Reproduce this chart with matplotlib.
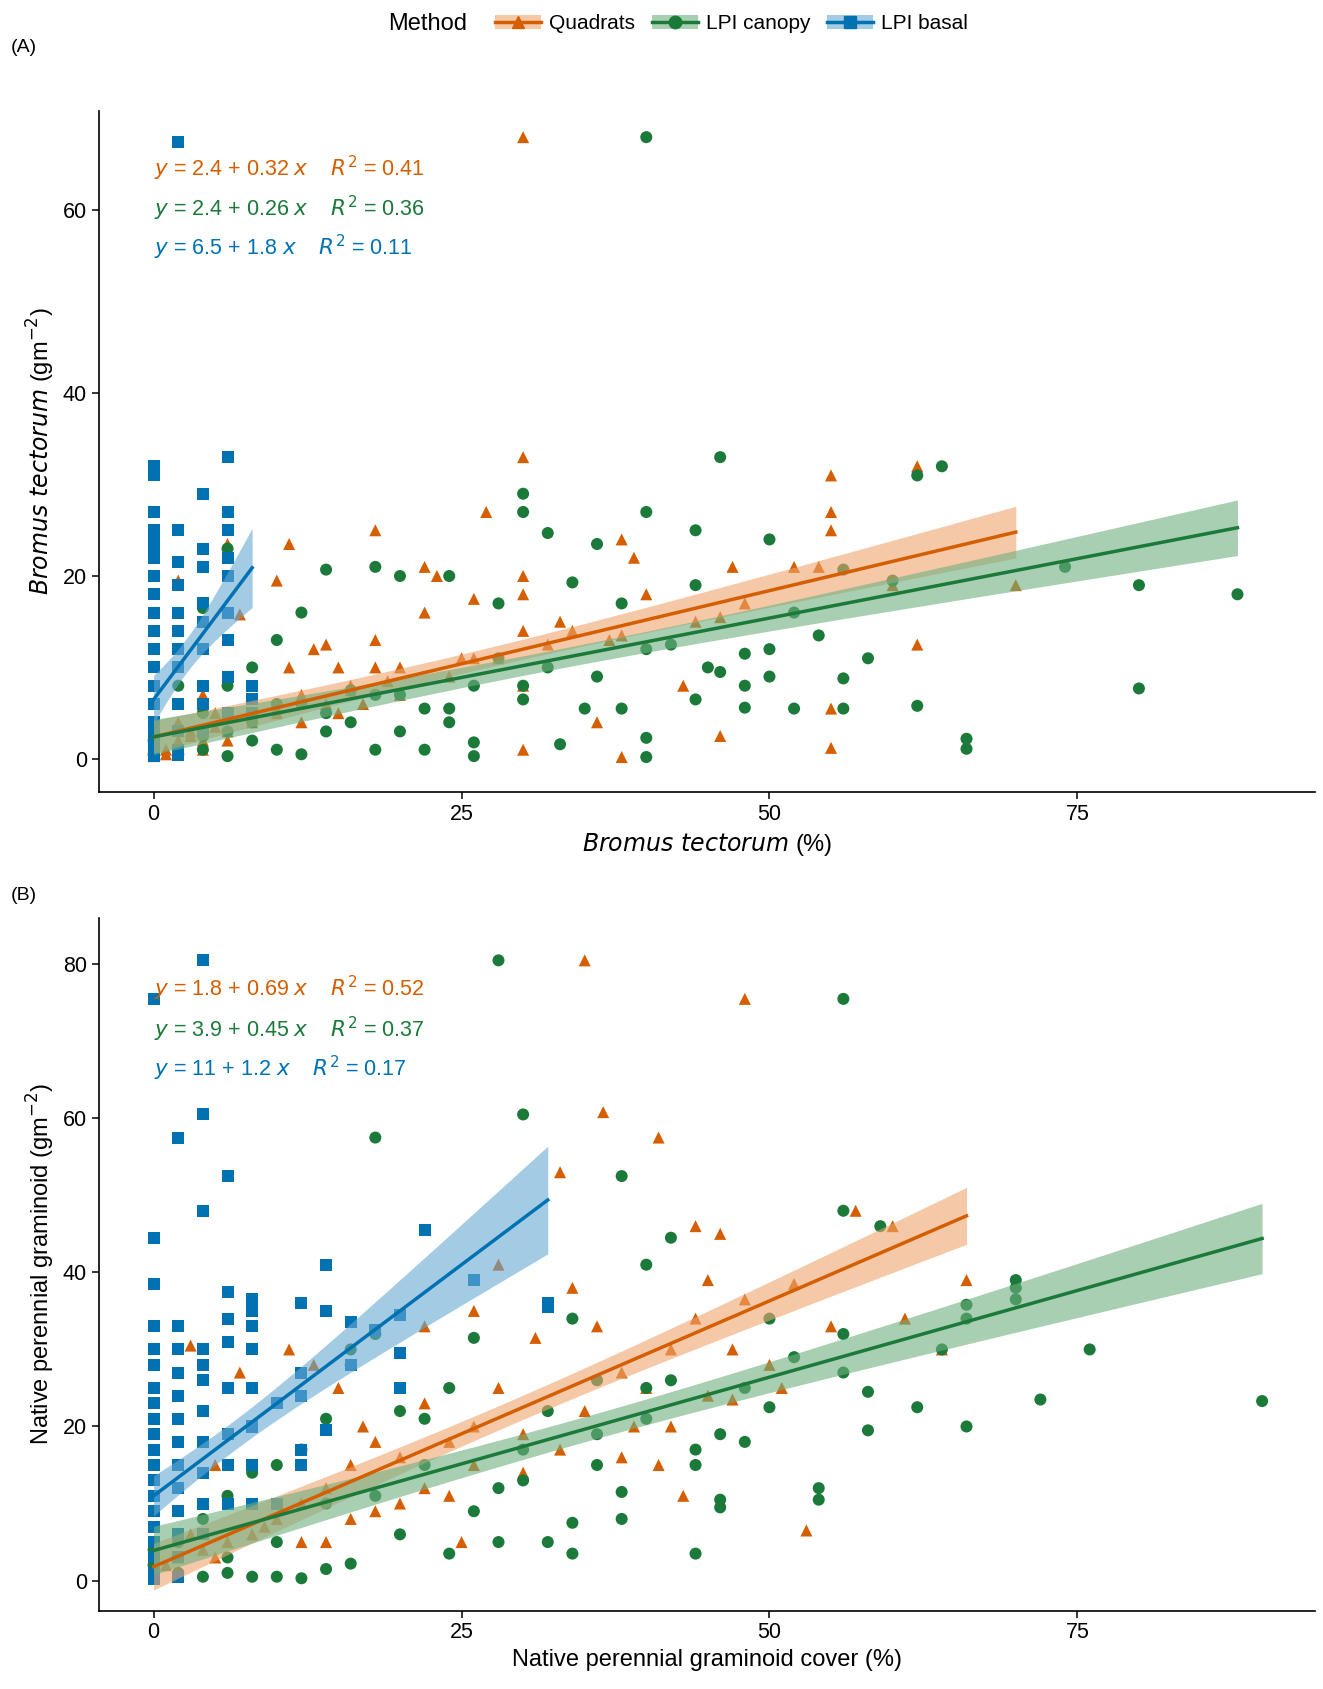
import numpy as np
import matplotlib.pyplot as plt
from matplotlib.lines import Line2D
from matplotlib.patches import Patch

# ---- panel A data: Bromus tectorum ----
a_quad_x = [30, 30, 62, 55, 55, 55, 47, 54, 70, 62, 55, 55, 46, 38, 30, 27, 18, 11, 22, 23, 30, 30, 38, 39, 43, 36,
            30, 25, 20, 15, 14, 16, 12, 10, 8, 6, 7, 5, 3, 2, 1, 0, 2, 10, 13, 17, 18, 22, 26, 33, 37, 40, 44, 46, 52,
            48, 60, 4, 6, 8, 10, 12, 14, 16, 18, 20, 24, 28, 32, 34, 0, 1, 2, 3, 4, 5, 6, 2, 4, 11, 15, 19, 26, 30, 38]
a_quad_y = [68, 33, 32, 31, 27, 25, 21, 21, 19, 12.5, 5.5, 1.2, 2.5, 0.2, 1, 27, 25, 23.5, 21, 20, 20, 18, 24, 22, 8,
            4, 14, 11, 10, 10, 12.5, 8, 7, 5, 4, 23.5, 15.8, 5, 3, 2, 1, 1, 19.5, 19.5, 12, 6, 13, 16, 17.5, 15, 13,
            18, 15, 15.5, 21, 17, 19, 2, 3, 4.5, 5.5, 4, 6, 7.5, 10, 7, 9, 11, 12.5, 14, 0.3, 0.5, 1.5, 2.5, 1, 3.5,
            2, 4, 7, 10, 5, 8.5, 11, 8, 13.5]
a_can_x = [40, 46, 64, 62, 30, 30, 40, 32, 44, 50, 74, 88, 80, 80, 66, 66, 62, 56, 52, 48, 40, 40, 26, 26, 33, 60,
           56, 54, 58, 56, 48, 50, 45, 42, 40, 38, 36, 34, 28, 24, 20, 18, 14, 12, 10, 8, 6, 4, 2, 2, 4, 6, 8, 10,
           12, 14, 16, 18, 20, 22, 24, 22, 30, 30, 35, 38, 44, 46, 48, 50, 52, 44, 36, 32, 28, 26, 24, 20, 16, 12, 6,
           0, 0, 2, 4, 6, 2, 4, 8, 10, 14, 18]
a_can_y = [68, 33, 32, 31, 29, 27, 27, 24.7, 25, 24, 21, 18, 19, 7.7, 2.2, 1.1, 5.8, 5.5, 5.5, 5.6, 0.2, 2.3, 0.3, 1.8,
           1.6, 19.5, 20.7, 13.5, 11, 8.8, 8, 12, 10, 12.5, 12, 17, 23.5, 19.3, 17, 20, 20, 21, 20.7, 16, 13, 10, 23,
           16.5, 12, 8, 5, 3, 2, 1, 0.5, 3, 4, 1, 3, 1, 4, 5.5, 6.5, 8, 5.5, 5.5, 6.5, 9.5, 11.5, 9, 16, 19, 9, 10,
           11, 8, 5.5, 7, 7.5, 6, 8, 0.5, 2, 0.5, 1, 0.3, 3, 2.5, 4, 6, 5, 7]
a_bas_x = [0] * 20 + [2] * 12 + [4] * 9 + [6] * 9 + [8] * 3
a_bas_y = [32, 31, 27, 25, 23, 20, 18, 16, 14, 12, 10, 8, 6, 4, 3, 2, 1, 0.3, 22, 24,
           67.5, 25, 21.5, 19, 16, 14, 12, 10, 6, 3, 1, 0.4,
           29, 23, 21, 17, 15, 12, 8, 6, 3,
           33, 27, 25, 22, 20, 16, 13, 9, 5,
           8, 6.5, 5]

# ---- panel B data: native perennial graminoid ----
b_quad_x = [35, 48, 36.5, 41, 33, 57, 60, 66, 44, 46, 45, 48, 52, 55, 61, 64, 47, 53, 43, 41, 39, 38, 36, 34, 31, 28,
            26, 22, 28, 26, 24, 20, 18, 16, 14, 12, 10, 8, 6, 4, 2, 0, 2, 11, 13, 15, 17, 22, 20, 25, 30, 33, 38, 40,
            42, 44, 45, 50, 51, 3, 7, 5, 8, 12, 16, 22, 26, 30, 35, 42, 47, 1, 3, 5, 9, 14, 18, 24]
b_quad_y = [80.5, 75.5, 60.8, 57.5, 53, 48, 46, 39, 46, 45, 39, 36.5, 38.5, 33, 34, 30, 23.5, 6.5, 11, 15, 20, 27, 33,
            38, 31.5, 41, 35, 33, 25, 20, 18, 16, 18, 15, 12, 10, 8, 6, 5, 4, 3, 1, 0.5, 30, 28, 25, 20, 23, 10, 5, 14,
            17, 16, 25, 30, 34, 24, 28, 25, 30.5, 27, 15, 10, 5, 8, 12, 15, 19, 22, 20, 30, 2, 6, 3, 7, 5, 9, 11]
b_can_x = [28, 56, 30, 18, 38, 56, 59, 42, 40, 70, 70, 66, 66, 70, 64, 76, 72, 90, 62, 58, 58, 66, 54, 54, 50, 48, 46,
           46, 46, 44, 34, 44, 44, 40, 38, 38, 36, 34, 32, 30, 28, 26, 24, 22, 20, 18, 16, 16, 14, 12, 10, 8, 6, 4, 2,
           0, 0, 2, 4, 6, 8, 10, 12, 14, 16, 20, 24, 26, 30, 32, 34, 36, 42, 50, 52, 56, 56, 48, 22, 18, 14, 10, 6, 28,
           36, 40]
b_can_y = [80.5, 75.5, 60.5, 57.5, 52.5, 48, 46, 44.5, 41, 39, 38, 35.8, 34, 36.5, 30, 30, 23.5, 23.3, 22.5, 24.5, 19.5,
           20, 12, 10.5, 22.5, 18, 19, 10.5, 9.5, 3.5, 3.5, 17, 15, 25, 11.5, 8, 15, 7.5, 5, 13, 5, 31.5, 25, 21, 22,
           32, 30, 28, 21, 17, 15, 14, 11, 8, 5, 2, 4, 1, 0.5, 1, 0.5, 0.5, 0.3, 1.5, 2.2, 6, 3.5, 9, 17, 22, 34, 26,
           26, 34, 29, 32, 27, 25, 15, 11, 10, 5, 3, 12, 19, 21]
b_bas_x = ([0] * 20 + [2] * 13 + [4] * 11 + [6] * 8 + [8] * 8 + [10] * 2 + [12] * 5 + [14] * 3 + [16] * 2
           + [18] + [20] * 3 + [22] + [26] + [32] * 2)
b_bas_y = [75.5, 44.5, 38.5, 33, 30, 28, 25, 23, 21, 19, 17, 15, 13, 11, 9, 7, 5, 3, 1, 0.2,
           57.5, 33, 30, 27, 24, 21, 18, 15, 12, 9, 6, 3, 0.5,
           80.5, 60.5, 48, 30, 28, 26, 22, 18, 14, 10, 6,
           52.5, 37.5, 34, 31, 25, 19, 15, 10,
           36.5, 35, 33, 30, 25, 20, 15, 10,
           23, 10,
           36, 27, 24, 17, 15,
           41, 35, 19.5,
           33.5, 28,
           32.5,
           34.5, 29.5, 25,
           45.5, 39, 36, 35.5]

# fitted coefficients (intercept, slope, R2) as printed on the chart
a_coef = {"Quadrats": (2.4, 0.32, 0.41), "LPI canopy": (2.4, 0.26, 0.36), "LPI basal": (6.5, 1.8, 0.11)}
b_coef = {"Quadrats": (1.8, 0.69, 0.52), "LPI canopy": (3.9, 0.45, 0.37), "LPI basal": (11, 1.2, 0.17)}

methods = ["Quadrats", "LPI canopy", "LPI basal"]
colors = {"Quadrats": "#D55E00", "LPI canopy": "#1B7A3A", "LPI basal": "#0072B2"}
ribbon = {"Quadrats": "#EFA56E", "LPI canopy": "#6FAF7F", "LPI basal": "#68A9D3"}
markers = {"Quadrats": "^", "LPI canopy": "o", "LPI basal": "s"}

plt.rcParams['font.family'] = ['Liberation Sans', 'DejaVu Sans']

fig = plt.figure(figsize=(13.23, 16.89), dpi=100)
axA = fig.add_axes((0.0747, 0.531, 0.9193, 0.4035))
axB = fig.add_axes((0.0747, 0.0464, 0.9193, 0.4101))


def draw(ax, data, coef, eq_y):
    for m in methods:
        x = np.array(data[m][0], float)
        y = np.array(data[m][1], float)
        ax.scatter(x, y, marker=markers[m], s=75, color=colors[m], edgecolors='none', zorder=2)
    for m in ["LPI basal", "Quadrats", "LPI canopy"]:
        x = np.array(data[m][0], float)
        y = np.array(data[m][1], float)
        b0, b1, r2 = coef[m]
        xs = np.linspace(x.min(), x.max(), 100)
        ys = b0 + b1 * xs
        res = y - (b0 + b1 * x)
        s = np.sqrt(np.sum(res ** 2) / (len(x) - 2))
        se = s * np.sqrt(1 / len(x) + (xs - x.mean()) ** 2 / np.sum((x - x.mean()) ** 2))
        # the original has far more points than were transcribed, so the band is narrowed
        ax.fill_between(xs, ys - 1.0 * se, ys + 1.0 * se, color=ribbon[m], alpha=0.6, lw=0, zorder=3)
        ax.plot(xs, ys, color=colors[m], lw=2.5, zorder=4)
    for i, m in enumerate(methods):
        b0, b1, r2 = coef[m]
        ax.text(0, eq_y[i], rf"$y$ = {b0:g} + {b1:g} $x$    $R^2$ = {r2:g}", color=colors[m],
                fontsize=15.5, va='center', ha='left', zorder=5)
    ax.set_xlim(-4.45, 94.3)
    ax.set_xticks([0, 25, 50, 75])
    for sp in ['top', 'right']:
        ax.spines[sp].set_visible(False)
    ax.spines['left'].set_linewidth(1.2)
    ax.spines['bottom'].set_linewidth(1.2)
    ax.tick_params(labelsize=15.5, length=5, width=1.1)


draw(axA, {"Quadrats": (a_quad_x, a_quad_y), "LPI canopy": (a_can_x, a_can_y),
           "LPI basal": (a_bas_x, a_bas_y)}, a_coef, [64.6, 60.2, 55.9])
axA.set_ylim(-3.64, 70.9)
axA.set_yticks([0, 20, 40, 60])
axA.set_xlabel(r"$\it{Bromus\ tectorum}$ (%)", fontsize=17)
axA.set_ylabel(r"$\it{Bromus\ tectorum}$ (gm$^{-2}$)", fontsize=17)

draw(axB, {"Quadrats": (b_quad_x, b_quad_y), "LPI canopy": (b_can_x, b_can_y),
           "LPI basal": (b_bas_x, b_bas_y)}, b_coef, [76.8, 71.6, 66.5])
axB.set_ylim(-3.9, 86)
axB.set_yticks([0, 20, 40, 60, 80])
axB.set_xlabel("Native perennial graminoid cover (%)", fontsize=17)
axB.set_ylabel("Native perennial graminoid (gm$^{-2}$)", fontsize=17)

fig.text(0.008, 0.969, "(A)", fontsize=14)
fig.text(0.008, 0.467, "(B)", fontsize=14)

handles = [(Patch(facecolor=ribbon[m], alpha=0.6),
            Line2D([], [], color=colors[m], lw=2.5, marker=markers[m], markersize=9)) for m in methods]
fig.text(0.293, 0.986, "Method", fontsize=17, va='center')
fig.legend(handles, methods, loc='center left', bbox_to_anchor=(0.36, 0.986), ncol=3, frameon=False,
           fontsize=15, handlelength=2.2, columnspacing=0.8, handletextpad=0.4)

fig.savefig("out.png", dpi=100)
